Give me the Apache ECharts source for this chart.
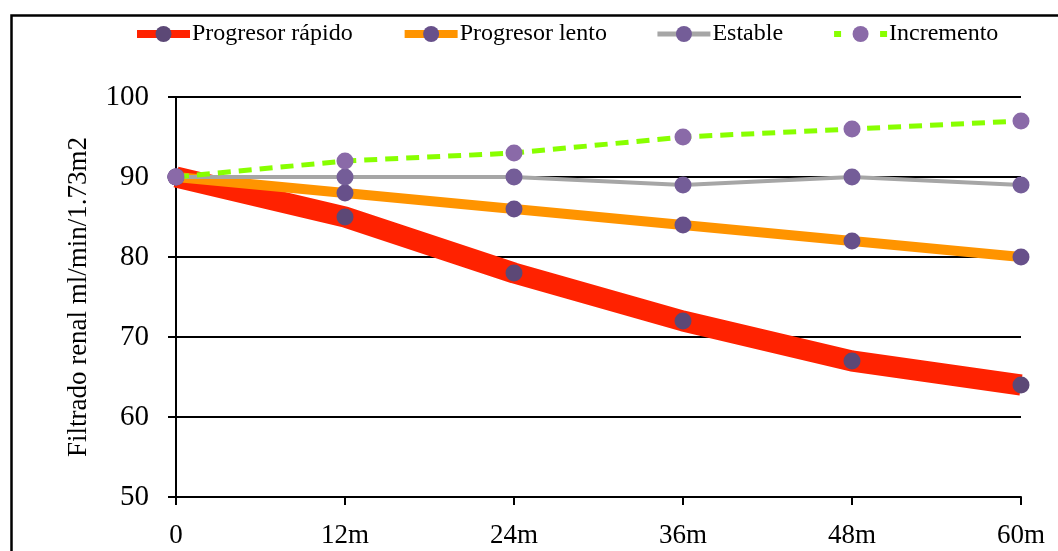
<!DOCTYPE html>
<html>
<head>
<meta charset="utf-8">
<script src="https://cdn.jsdelivr.net/npm/echarts@6/dist/echarts.min.js"></script>
<style>
html,body{margin:0;padding:0;background:#fff;}
#chart{width:1058px;height:551px;}
</style>
</head>
<body>
<div id="chart"></div>
<script>
const categories = ['0', '12m', '24m', '36m', '48m', '60m'];
const seriesNames = ['Progresor rápido', 'Progresor lento', 'Estable', 'Incremento'];
const rapido = [90, 85, 78, 72, 67, 64];
const lento = [90, 88, 86, 84, 82, 80];
const estable = [90, 90, 90, 89, 90, 89];
const incremento = [90, 92, 93, 95, 96, 97];
const yTicks = [50, 60, 70, 80, 90, 100];
const yAxisTitle = 'Filtrado renal ml/min/1.73m2';

const font = '"Liberation Serif", "Times New Roman", serif';
const lineColors = ['#ff2200', '#ff9400', '#a6a6a6', '#88ff00'];
const markColors = ['#5c4876', '#67508a', '#745d98', '#8a6aa8'];
const lineWidths = [21, 10, 4, 5];
const legendWidths = [8, 8, 5, 6];
const dataSets = [rapido, lento, estable, incremento];

const chart = echarts.init(document.getElementById('chart'));
chart.setOption({
  animation: false,
  backgroundColor: '#fff',
  graphic: [{
    type: 'rect', left: 9, top: 13, silent: true, z: 100,
    shape: { width: 1100, height: 600 },
    style: { fill: 'none', stroke: '#000', lineWidth: 2.5 }
  }],
  legend: {
    top: 17, left: 128,
    itemWidth: 53, itemHeight: 20, itemGap: 48,
    textStyle: { fontFamily: font, fontSize: 24, color: '#000', padding: [0, 0, 0, -3] },
    data: seriesNames.map((n, i) => ({
      name: n,
      itemStyle: { color: markColors[i] },
      lineStyle: { width: legendWidths[i], color: lineColors[i], type: i === 3 ? [7, 39] : 'solid', cap: 'butt' }
    }))
  },
  grid: { left: 176, top: 97, right: 37, bottom: 54, containLabel: false },
  xAxis: {
    type: 'category', data: categories, boundaryGap: false,
    axisLine: { lineStyle: { color: '#000', width: 2 } },
    axisTick: { show: true, length: 8, lineStyle: { color: '#000', width: 2 }, alignWithLabel: true },
    axisLabel: { fontFamily: font, fontSize: 27, color: '#000', margin: 25 },
    splitLine: { show: false }
  },
  yAxis: {
    type: 'value', min: yTicks[0], max: yTicks[yTicks.length - 1], interval: 10,
    name: yAxisTitle, nameLocation: 'middle', nameGap: 84,
    nameTextStyle: { fontFamily: font, fontSize: 27, color: '#000' },
    axisLine: { show: true, lineStyle: { color: '#000', width: 2 } },
    axisTick: { show: true, length: 8, lineStyle: { color: '#000', width: 2 } },
    axisLabel: { fontFamily: font, fontSize: 29, color: '#000', margin: 27 },
    splitLine: { show: true, lineStyle: { color: '#000', width: 2 } }
  },
  series: dataSets.map((d, i) => ({
    name: seriesNames[i],
    type: 'line',
    data: d,
    z: 2 + i,
    symbol: 'circle',
    symbolSize: 17,
    itemStyle: { color: markColors[i] },
    lineStyle: { color: lineColors[i], width: lineWidths[i], type: i === 3 ? [13, 8] : 'solid', cap: 'butt', join: 'round' },
    emphasis: { disabled: true }
  }))
});
</script>
</body>
</html>
